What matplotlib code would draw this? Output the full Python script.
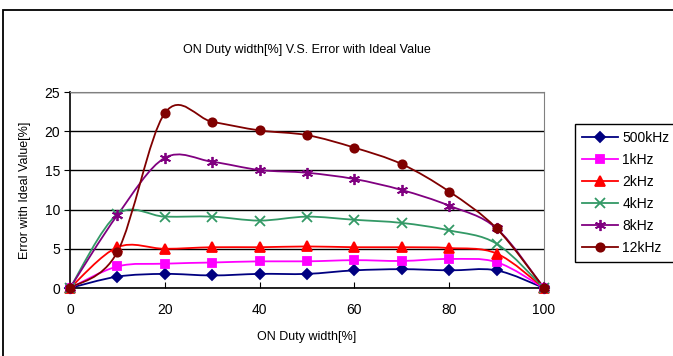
import matplotlib
matplotlib.use("Agg")
import matplotlib.pyplot as plt
from matplotlib.path import Path
from matplotlib.patches import PathPatch, Rectangle
from matplotlib.lines import Line2D

plt.rcParams['font.family'] = ['Liberation Sans', 'DejaVu Sans']

# data
duty = [0, 10, 20, 30, 40, 50, 60, 70, 80, 90, 100]
err_500k = [0, 1.45, 1.8, 1.6, 1.8, 1.8, 2.25, 2.4, 2.25, 2.25, 0]
err_1k = [0, 2.75, 3.1, 3.25, 3.4, 3.4, 3.55, 3.45, 3.7, 3.3, 0]
err_2k = [0, 5.2, 5.0, 5.2, 5.2, 5.3, 5.2, 5.2, 5.1, 4.4, 0]
err_4k = [0, 9.4, 9.1, 9.1, 8.6, 9.1, 8.7, 8.3, 7.35, 5.65, 0]
err_8k = [0, 9.3, 16.6, 16.1, 15.05, 14.7, 13.9, 12.5, 10.5, 7.6, 0]
err_12k = [0, 4.6, 22.3, 21.2, 20.1, 19.5, 17.9, 15.8, 12.3, 7.6, 0]

labels = ['500kHz', '1kHz', '2kHz', '4kHz', '8kHz', '12kHz']
series = [err_500k, err_1k, err_2k, err_4k, err_8k, err_12k]
colors = ['#000080', '#FF00FF', '#FF0000', '#339966', '#800080', '#800000']
markers = ['D', 's', '^', 'x', (6, 2, 0), 'o']
msizes = [5, 6, 7, 7, 8, 6]


def smooth_path(xs, ys):
    # Excel-style smoothed line: cubic bezier through the points
    pts = list(zip(xs, ys))
    verts = [pts[0]]
    codes = [Path.MOVETO]
    n = len(pts)
    for i in range(n - 1):
        p0 = pts[i - 1] if i > 0 else pts[i]
        p1 = pts[i]
        p2 = pts[i + 1]
        p3 = pts[i + 2] if i + 2 < n else pts[i + 1]
        c1 = (p1[0] + (p2[0] - p0[0]) / 6, p1[1] + (p2[1] - p0[1]) / 6)
        c2 = (p2[0] - (p3[0] - p1[0]) / 6, p2[1] - (p3[1] - p1[1]) / 6)
        verts += [c1, c2, p2]
        codes += [Path.CURVE4] * 3
    return Path(verts, codes)


fig = plt.figure(figsize=(6.73, 3.56), dpi=100)
ax = fig.add_axes([70 / 673, 1 - 288 / 356, 474 / 673, 196 / 356])

# outer chart frame (cropped on the right and bottom)
fig.patches.append(Rectangle((3 / 673, -0.1), 1.1, 1 - 10 / 356 + 0.1,
                             transform=fig.transFigure, fill=False,
                             edgecolor='black', linewidth=1.3))

handles = []
for ys, lab, c, m, ms in zip(series, labels, colors, markers, msizes):
    ax.add_patch(PathPatch(smooth_path(duty, ys), fill=False,
                           edgecolor=c, linewidth=1.3, zorder=3))
    ax.plot(duty, ys, linestyle='none', marker=m, color=c, markersize=ms,
            markeredgewidth=1.3, zorder=4, clip_on=False)
    handles.append(Line2D([], [], color=c, marker=m, markersize=ms,
                          markeredgewidth=1.3, linewidth=1.3, label=lab))

ax.set_xlim(0, 100)
ax.set_ylim(0, 25)
ax.set_xticks(range(0, 101, 20))
ax.set_yticks(range(0, 26, 5))
ax.yaxis.grid(True, color='black', linewidth=1)
ax.set_axisbelow(True)

for s in ['top', 'right']:
    ax.spines[s].set_color('#808080')
for s in ['left', 'bottom']:
    ax.spines[s].set_color('black')
    ax.spines[s].set_linewidth(1.2)

ax.tick_params(axis='x', direction='in', length=4, labelsize=10, pad=11)
ax.tick_params(axis='y', direction='out', length=4, labelsize=10, pad=3)

ax.set_title('ON Duty width[%] V.S. Error with Ideal Value', fontsize=9, pad=28)
ax.set_xlabel('ON Duty width[%]', fontsize=9, labelpad=10)
ax.set_ylabel('Error with Ideal Value[%]', fontsize=9, labelpad=10)

leg = fig.legend(handles=handles, loc='upper left',
                 bbox_to_anchor=(575 / 673, 1 - 124 / 356),
                 bbox_transform=fig.transFigure, fontsize=10,
                 fancybox=False, edgecolor='black', framealpha=1,
                 handlelength=2.6, labelspacing=0.58, borderpad=0.5,
                 handletextpad=0.3, borderaxespad=0)
leg.get_frame().set_linewidth(1)

fig.savefig('out.png', dpi=100)
